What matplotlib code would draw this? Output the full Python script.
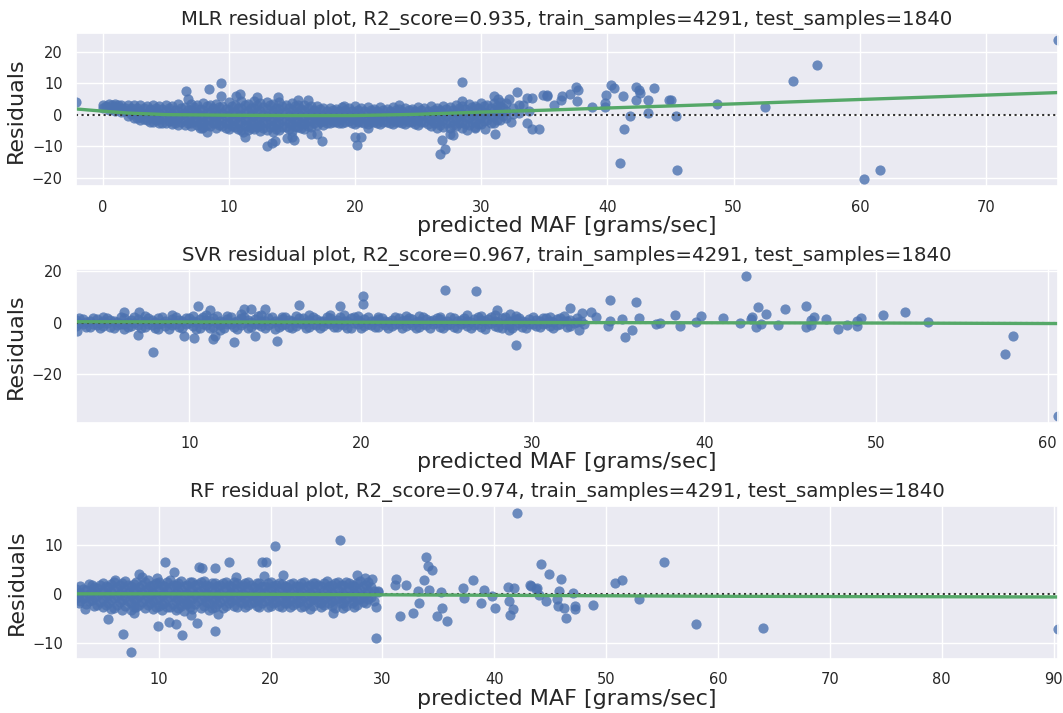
import matplotlib
matplotlib.use("Agg")
import matplotlib.pyplot as plt
import seaborn as sns

sns.set_theme(style="darkgrid")
plt.rcParams["font.family"] = ["DejaVu Sans"]

titles = [
    "MLR residual plot, R2_score=0.935, train_samples=4291, test_samples=1840",
    "SVR residual plot, R2_score=0.967, train_samples=4291, test_samples=1840",
    "RF residual plot, R2_score=0.974, train_samples=4291, test_samples=1840",
]

# dense band of residuals, read column by column: (predicted MAF, [residuals])
mlr_band = [
    (0.0, [3.0, 2.0]), (0.5, [3.3, 1.6]), (1.0, [3.4, 1.2, 2.4]), (1.5, [3.2, 0.8, 2.0]),
    (2.0, [3.1, 1.0, -0.4]), (2.5, [2.9, 0.6, -1.0]), (3.0, [3.2, 1.2, -0.8, -1.6]),
    (3.5, [2.8, 0.5, -1.8]), (4.0, [3.0, 1.0, -1.0, -2.3]), (4.5, [2.6, 0.4, -1.5, -2.6]),
    (5.0, [3.1, 1.2, -0.8, -2.8]), (5.5, [2.8, 0.2, -1.8, -3.0]), (6.0, [3.3, 1.0, -1.0, -3.2]),
    (6.5, [2.5, 0.4, -1.6, -3.4]), (7.0, [3.4, 1.4, -0.6, -2.6, -3.6]), (7.5, [2.9, 0.6, -1.6, -3.4]),
    (8.0, [3.6, 1.5, -0.5, -2.5, -4.0]), (8.5, [3.0, 0.8, -1.4, -3.6]),
    (9.0, [3.5, 1.2, -0.8, -2.8, -4.1]), (9.5, [2.8, 0.6, -1.8, -3.6]),
    (10.0, [3.9, 1.6, -0.6, -2.6, -4.5]), (10.5, [3.2, 0.9, -1.5, -3.8]),
    (11.0, [4.2, 2.0, -0.2, -2.4, -4.8]), (11.5, [3.4, 1.0, -1.4, -3.6, -5.0]),
    (12.0, [4.4, 2.1, -0.3, -2.6, -4.6]), (12.5, [3.6, 1.2, -1.2, -3.4, -5.2]),
    (13.0, [4.0, 1.8, -0.4, -2.6, -4.8]), (13.5, [3.4, 1.0, -1.4, -3.6, -5.6]),
    (14.0, [4.1, 1.7, -0.6, -2.8, -5.0]), (14.5, [3.2, 0.8, -1.6, -3.8]),
    (15.0, [3.6, 1.4, -0.8, -3.0, -5.1]), (15.5, [2.9, 0.6, -1.6, -3.8]),
    (16.0, [3.2, 1.0, -1.0, -3.0, -4.6]), (16.5, [2.6, 0.4, -1.8, -3.8]),
    (17.0, [2.6, 0.6, -1.4, -3.2]), (17.5, [2.0, 0.0, -2.0, -3.4]), (18.0, [2.2, 0.4, -1.4, -2.8]),
    (18.5, [1.8, -0.2, -2.2]), (19.0, [2.4, 0.6, -1.2, -2.6]), (19.5, [2.0, 0.0, -2.0]),
    (20.0, [2.6, 0.6, -1.4, -3.0]), (20.5, [2.0, 0.0, -2.2]), (21.0, [2.5, 0.5, -1.5, -3.0]),
    (21.5, [1.9, -0.2, -2.4]), (22.0, [2.3, 0.4, -1.6, -3.0]), (22.5, [1.8, -0.2, -2.2]),
    (23.0, [2.4, 0.4, -1.6, -2.9]), (23.5, [1.8, -0.4, -2.4]), (24.0, [2.2, 0.2, -1.8, -3.1]),
    (24.5, [1.8, -0.2, -2.4]), (25.0, [2.5, 0.4, -1.6, -3.4]), (25.5, [2.0, -0.2, -2.4]),
    (26.0, [2.6, 0.6, -1.6, -3.6]), (26.5, [2.2, 0.0, -2.4, -4.2]), (27.0, [2.8, 0.6, -1.6, -3.8]),
    (27.5, [2.4, 0.2, -2.2, -4.4]), (28.0, [3.0, 0.8, -1.4, -3.6]), (28.5, [2.6, 0.2, -2.2, -4.2]),
    (29.0, [3.4, 1.2, -1.0, -3.2]), (29.5, [2.8, 0.4, -2.0, -3.8]), (30.0, [3.6, 1.4, -0.8, -3.0]),
    (30.5, [3.0, 0.6, -1.8]), (31.0, [3.8, 1.6, -0.6, -2.6]), (31.5, [2.8, 0.4, -1.6]),
    (32.0, [3.6, 1.2, -1.0]), (33.0, [3.0, 0.6]),
    (0.25, [2.6]), (0.75, [2.2, 3.0]), (1.25, [1.8, 3.0]), (1.75, [2.2, 1.2]), (2.25, [2.0, 0.2]),
    (2.75, [2.0, -0.2, -1.2]), (3.25, [2.2, 0.2, -1.4]), (3.75, [1.8, -0.6, -2.2]),
    (4.25, [2.0, 0.0, -1.8]), (4.75, [1.8, -0.6, -2.6]), (5.25, [2.2, 0.0, -2.0]),
    (5.75, [1.6, -0.8, -2.6]), (6.25, [2.2, 0.0, -2.2]), (6.75, [1.6, -0.6, -2.8]),
    (7.25, [2.4, 0.2, -2.0]), (7.75, [1.8, -0.6, -2.6, -4.2]), (8.25, [2.6, 0.4, -1.6, -3.2]),
    (8.75, [2.0, -0.4, -2.6]), (9.25, [2.4, 0.2, -1.8, -3.4]), (9.75, [1.8, -0.6, -2.8, -4.4]),
    (10.25, [2.6, 0.4, -1.6, -3.6]), (10.75, [2.0, -0.4, -2.8, -4.6]), (11.25, [3.0, 0.6, -1.6, -3.4]),
    (11.75, [2.2, -0.2, -2.6, -4.4]), (12.25, [3.2, 0.8, -1.6, -3.8]), (12.75, [2.4, 0.0, -2.4, -4.4]),
    (13.25, [3.0, 0.6, -1.8, -3.8]), (13.75, [2.2, -0.2, -2.6, -4.6]), (14.25, [2.8, 0.6, -1.8, -4.0]),
    (14.75, [2.0, -0.4, -2.6, -4.6]), (15.25, [2.6, 0.2, -2.0, -4.0]), (15.75, [1.8, -0.6, -2.8, -4.4]),
    (16.25, [2.2, 0.0, -2.0, -3.6]), (16.75, [1.6, -0.6, -2.6]), (17.25, [1.8, -0.4, -2.4]),
    (17.75, [1.2, -0.8, -2.6]), (18.25, [1.4, -0.6, -2.2]), (18.75, [1.0, -1.2, -2.6]),
    (19.25, [1.6, -0.4, -2.2]), (19.75, [1.2, -1.0, -2.6]), (20.25, [1.6, -0.6, -2.2]),
    (20.75, [1.2, -1.0, -2.6]), (21.25, [1.6, -0.6, -2.2]), (21.75, [1.0, -1.0, -2.8]),
    (22.25, [1.4, -0.6, -2.2]), (22.75, [1.0, -1.2, -2.8]), (23.25, [1.6, -0.6, -2.2]),
    (23.75, [1.2, -1.0, -2.8]), (24.25, [1.4, -0.8, -2.4]), (24.75, [1.0, -1.2, -3.0]),
    (25.25, [1.6, -0.6, -2.4]), (25.75, [1.2, -1.0, -3.0]), (26.25, [1.6, -0.8, -2.8]),
    (26.75, [1.4, -1.0, -3.2]), (27.25, [1.8, -0.6, -2.8]), (27.75, [1.6, -1.0, -3.2]),
    (28.25, [2.0, -0.4, -2.8]), (28.75, [1.8, -0.8, -3.0]), (29.25, [2.4, 0.0, -2.2]),
    (29.75, [2.0, -0.6, -3.0]), (30.25, [2.6, 0.4, -2.0]), (30.75, [2.0, -0.4, -2.6]),
    (31.25, [2.8, 0.6, -1.6]), (31.75, [2.0, -0.4]), (32.5, [2.2, 0.2]),
]
mlr_x = [-2.1, 6.6, 6.8, 8.4, 9.4, 9.4, 8.3, 7.9, 10.6, 10.9, 11.3, 11.1, 12.2, 13.0, 13.4,
         13.9, 13.7, 14.6, 15.2, 15.0, 15.5, 16.3, 17.0, 17.4, 16.5, 19.1, 20.0, 20.2, 20.5,
         21.0, 23.5, 26.7, 27.1, 26.9, 27.5, 27.8, 28.5, 28.5, 28.9, 29.5, 30.3, 31.0, 31.3,
         31.1, 31.5, 32.2, 32.8, 32.4, 33.3, 33.6, 34.0, 33.8, 33.6, 34.0, 34.6, 34.9, 35.2,
         35.2, 35.8, 36.3, 36.4, 37.0, 37.5, 37.7, 37.6, 38.8, 39.8, 39.8, 39.9, 40.3, 40.5,
         41.2, 41.0, 41.3, 41.8, 42.3, 42.5, 42.6, 42.3, 43.2, 43.2, 43.7, 44.9, 45.0, 45.4,
         45.5, 48.7, 52.5, 54.7, 56.6, 60.3, 61.6, 75.7]
mlr_y = [4.0, 7.5, 5.0, 8.0, 10.0, 6.0, -5.5, -4.3, 6.0, 6.5, -7.0, -5.5, 5.5, -10.0, -9.0,
         5.5, -8.5, -7.5, -8.0, -7.0, 4.5, 4.5, -6.0, -8.5, -6.0, 2.8, -7.0, -9.5, -7.0,
         -4.2, 3.0, -12.5, -11.0, -8.0, -6.0, -6.5, 10.5, 4.2, -5.0, -4.2, -4.5, 6.0, 5.0,
         -6.0, 4.0, 5.0, 7.3, -2.2, 3.2, 5.3, 5.3, 1.0, -2.6, -4.5, -4.7, 6.3, 5.8,
         6.1, 2.9, 4.7, 5.8, 6.5, 8.7, 7.7, 4.4, 2.3, 2.4, 3.7, 6.1, 9.5, 8.3,
         5.8, -15.3, -4.5, -0.3, 8.7, 7.9, 6.8, 4.7, 4.5, 0.5, 8.3, 4.7, 4.5, -0.3,
         -17.5, 3.5, 2.5, 10.8, 15.6, -20.6, -17.5, 23.7]
mlr_trend_x = [-2.1, 0, 2, 5, 10, 15, 20, 25, 30, 35, 40, 50, 60, 75.7]
mlr_trend_y = [1.8, 1.1, 0.5, 0.0, -0.2, -0.3, -0.3, 0.1, 0.8, 1.4, 2.1, 3.4, 4.8, 7.0]

svr_band = [
    (3.4, [0.8, -1.4]), (3.8, [1.2, -0.6]), (4.2, [0.4, -1.6]), (4.6, [1.4, -0.8]),
    (5.0, [0.6, -1.2, 2.2]), (5.4, [1.0, -1.8]), (5.8, [0.2, -1.0]), (6.2, [1.6, -0.4, -2.4]),
    (6.6, [0.8, -1.4]), (7.0, [1.2, -0.8]), (7.4, [0.4, -1.6, 2.4]), (7.8, [1.0, -1.0]),
    (8.2, [1.8, -0.6, -2.6]), (8.6, [0.6, -1.4]), (9.0, [1.4, -0.8, 2.8]), (9.4, [0.8, -1.8]),
    (9.8, [1.6, -0.4]), (10.2, [0.4, -1.2, 2.6]), (10.6, [1.2, -2.0]), (11.0, [0.8, -0.8, 3.0]),
    (11.4, [1.8, -1.6]), (11.8, [0.6, -1.0, -2.8]), (12.2, [1.4, -0.6, 2.4]), (12.6, [0.2, -1.8]),
    (13.0, [1.6, -1.0, 3.2]), (13.4, [0.8, -2.2]), (13.8, [1.2, -0.6]), (14.2, [0.4, -1.4, 2.8]),
    (14.6, [1.8, -1.0]), (15.0, [0.6, -2.4]), (15.4, [1.4, -0.8, 2.2]), (15.8, [1.0, -1.6]),
    (16.2, [0.2, -1.2, 2.6]), (16.6, [1.6, -0.6]), (17.0, [0.8, -1.8, 3.0]), (17.4, [1.2, -0.8]),
    (17.8, [0.6, -1.4]), (18.2, [1.8, -0.4, 2.8]), (18.6, [1.0, -1.6]), (19.0, [0.4, -1.0, 3.0]),
    (19.4, [1.6, -2.0]), (19.8, [0.8, -0.6, 2.4]), (20.2, [1.4, -1.4]), (20.6, [0.6, -0.8]),
    (21.0, [1.2, -1.8, 2.2]), (21.4, [0.4, -1.0]), (21.8, [1.0, -1.4]), (22.2, [1.6, -0.6]),
    (22.6, [0.8, -1.2, 2.4]), (23.0, [1.2, -0.8]), (23.4, [0.4, -1.6, 2.6]), (23.8, [1.4, -1.0]),
    (24.2, [0.8, -0.4]), (24.6, [1.2, -1.6, 2.2]), (25.0, [0.6, -1.0]), (25.4, [1.6, -1.8]),
    (25.8, [1.0, -0.6]), (26.2, [0.4, -1.4, 2.8]), (26.6, [1.4, -1.0]), (27.0, [0.8, -1.8, 2.4]),
    (27.4, [1.2, -0.6]), (27.8, [0.6, -1.2, 3.0]), (28.2, [1.8, -2.2]), (28.6, [0.4, -1.0]),
    (29.0, [1.2, -0.8, 2.4]), (29.4, [0.6, -1.6]), (29.8, [1.4, -0.4]), (30.2, [0.8, -1.2]),
    (30.6, [1.6, -0.6]), (31.0, [0.4, -1.4, 2.0]), (31.4, [1.2, -0.8]), (31.8, [0.6, 2.4]),
    (32.2, [1.0, -1.2]), (32.6, [0.2, 1.6]), (33.0, [-0.6]),
    (3.6, [-0.2, 1.6]), (4.0, [0.2, -1.8]), (4.4, [-0.4, 1.8]), (4.8, [0.0, -2.0]),
    (5.2, [-0.2, 1.6]), (5.6, [0.4, -2.2]), (6.0, [-0.6, 2.0]), (6.4, [0.2, -1.8]),
    (6.8, [-0.2, 2.2]), (7.2, [0.4, -2.0]), (7.6, [-0.4, 1.8]), (8.0, [0.2, -2.2]),
    (8.4, [-0.2, 2.0]), (8.8, [0.0, -2.4]), (9.2, [-0.4, 2.2]), (9.6, [0.4, -2.0]),
    (10.0, [-0.2, 1.8]), (10.4, [0.2, -2.4]), (10.8, [-0.6, 2.2]), (11.2, [0.4, -2.0]),
    (11.6, [-0.2, 2.4]), (12.0, [0.2, -2.2]), (12.4, [-0.4, 2.0]), (12.8, [0.6, -2.4]),
    (13.2, [-0.2, 2.2]), (13.6, [0.2, -1.8]), (14.0, [-0.4, 2.4]), (14.4, [0.4, -2.2]),
    (14.8, [-0.2, 2.0]), (15.2, [0.2, -1.6]), (15.6, [-0.4, 2.2]), (16.0, [0.4, -2.2]),
    (16.4, [-0.2, 1.8]), (16.8, [0.2, -2.0]), (17.2, [-0.4, 2.2]), (17.6, [0.4, -2.2]),
    (18.0, [-0.2, 2.0]), (18.4, [0.2, -1.8]), (18.8, [-0.4, 2.2]), (19.2, [0.4, -2.0]),
    (19.6, [-0.2, 2.0]), (20.0, [0.2, -2.2]), (20.4, [-0.4, 2.2]), (20.8, [0.4, -1.8]),
    (21.2, [-0.2, 1.8]), (21.6, [0.2, -2.0]), (22.0, [-0.4, 2.0]), (22.4, [0.4, -2.2]),
    (22.8, [-0.2, 1.8]), (23.2, [0.2, -2.0]), (23.6, [-0.4, 2.0]), (24.0, [0.4, -2.2]),
    (24.4, [-0.2, 1.8]), (24.8, [0.2, -2.0]), (25.2, [-0.4, 2.2]), (25.6, [0.4, -2.2]),
    (26.0, [-0.2, 1.8]), (26.4, [0.2, -2.0]), (26.8, [-0.4, 2.0]), (27.2, [0.4, -2.4]),
    (27.6, [-0.2, 2.2]), (28.0, [0.2, -1.8]), (28.4, [-0.4, 2.0]), (28.8, [0.4, -2.0]),
    (29.2, [-0.2, 1.8]), (29.6, [0.2, -2.2]), (30.0, [-0.4, 2.0]), (30.4, [0.4, -1.8]),
    (30.8, [-0.2, 1.8]), (31.2, [0.2, -2.0]), (31.6, [-0.4, 1.6]), (32.0, [0.4, -1.8]),
    (32.4, [-0.2]), (32.8, [0.6]),
]
svr_x = [3.43, 6.2, 7.0, 7.05, 7.9, 9.7, 10.3, 10.5, 11.2, 11.4, 11.5, 12.6, 13.2, 13.6,
         13.8, 14.4, 15.1, 16.4, 18.8, 20.1, 20.1, 24.9, 26.7, 27.9, 28.6, 29.0, 28.7,
         32.2, 32.9, 33.4, 33.7, 32.7, 34.5, 34.5, 34.4, 35.2, 35.4, 35.8, 36.0, 36.2,
         37.2, 37.4, 38.3, 38.6, 39.5, 39.8, 41.1, 42.1, 42.4, 42.7, 42.8, 43.1, 43.0,
         43.3, 43.6, 44.3, 44.7, 45.9, 45.9, 46.2, 46.2, 46.4, 47.1, 47.8, 48.3, 48.9,
         48.9, 49.1, 50.4, 51.7, 53.0, 57.5, 58.0, 60.6]
svr_y = [-3.2, 4.1, -4.8, 4.2, -11.4, -5.1, -6.0, 6.6, 4.7, -6.4, -5.1, -7.6, 5.3, 5.3,
         -5.3, 5.1, -7.2, 7.0, 6.6, 10.2, 7.4, 12.5, 12.1, 4.7, -2.8, -8.9, 3.2,
         5.8, 3.6, 4.2, 2.2, -2.8, 8.7, 0.6, -1.5, 1.3, -5.5, -2.8, 8.1, 1.9,
         -0.6, 0.0, 2.8, -1.5, 0.3, 2.6, 1.7, 0.0, 18.0, 1.3, 2.3, 6.0, -1.9,
         -0.4, 3.5, -0.9, 5.4, 6.4, -1.9, 0.9, -1.0, 2.3, 1.3, -2.6, -1.0, -1.3,
         0.6, 1.7, 2.8, 4.2, 0.3, -12.4, -5.3, -36.3]
svr_trend_x = [3.43, 10, 20, 30, 40, 50, 60.6]
svr_trend_y = [0.3, 0.2, 0.1, 0.0, -0.1, -0.2, -0.4]

rf_band = [
    (2.6, [1.0, -0.8]), (3.0, [1.6, 0.2, -1.4]), (3.5, [0.8, -0.6, -2.0]), (4.0, [2.0, 0.4, -1.2]),
    (4.5, [1.2, -0.4, -2.2]), (5.0, [2.4, 0.6, -1.0, -2.6]), (5.5, [1.4, -0.2, -1.8]),
    (6.0, [2.6, 0.8, -0.8, -2.8]), (6.5, [1.8, 0.0, -1.6]), (7.0, [2.8, 1.0, -0.6, -2.4]),
    (7.5, [1.6, -0.2, -1.8, -3.2]), (8.0, [2.6, 0.8, -1.0, -2.6]), (8.5, [1.8, 0.2, -1.6]),
    (9.0, [3.0, 1.0, -0.6, -2.2]), (9.5, [2.0, 0.2, -1.4, -3.0]), (10.0, [2.6, 0.8, -0.8, -2.4]),
    (10.5, [1.6, 0.0, -1.8]), (11.0, [3.0, 1.2, -0.6, -2.6]), (11.5, [2.0, 0.2, -1.4, -3.2]),
    (12.0, [2.8, 1.0, -0.8, -2.4]), (12.5, [1.8, 0.0, -1.8]), (13.0, [2.6, 0.8, -1.0, -3.0]),
    (13.5, [2.2, 0.4, -1.4]), (14.0, [2.8, 1.0, -0.6, -2.4]), (14.5, [1.6, -0.2, -1.8, -3.2]),
    (15.0, [2.4, 0.6, -1.0, -2.6]), (15.5, [1.8, 0.0, -1.6]), (16.0, [2.6, 1.0, -0.6, -2.4]),
    (16.5, [1.6, 0.2, -1.4]), (17.0, [2.4, 0.8, -0.8, -2.6]), (17.5, [1.8, 0.0, -1.8]),
    (18.0, [2.6, 1.0, -0.6, -2.2]), (18.5, [1.4, -0.2, -1.6]), (19.0, [2.4, 0.6, -1.0, -2.6]),
    (19.5, [1.6, 0.2, -1.4]), (20.0, [2.6, 1.0, -0.6, -2.4]), (20.5, [1.8, 0.0, -1.6]),
    (21.0, [2.2, 0.6, -1.0, -2.6]), (21.5, [1.4, -0.2, -1.8]), (22.0, [2.4, 0.8, -0.8, -2.2]),
    (22.5, [1.6, 0.0, -1.6]), (23.0, [2.6, 1.0, -0.6, -2.4]), (23.5, [1.8, 0.2, -1.4, -3.0]),
    (24.0, [2.4, 0.6, -1.0]), (24.5, [1.6, -0.2, -1.8, -2.6]), (25.0, [2.8, 1.0, -0.6]),
    (25.5, [2.0, 0.2, -1.4, -2.4]), (26.0, [2.6, 0.8, -1.0]), (26.5, [1.8, 0.0, -1.8, -2.8]),
    (27.0, [2.4, 1.0, -0.6]), (27.5, [1.6, 0.2, -1.4, -2.6]), (28.0, [2.8, 0.8, -1.0]),
    (28.5, [2.0, 0.0, -1.8]), (29.0, [1.4, -0.6]), (29.6, [0.4]),
    (2.85, [0.2, -1.8]), (3.25, [1.0, -0.8]), (3.75, [2.2, 0.0, -1.4]), (4.25, [1.4, -0.6, -2.4]),
    (4.75, [2.0, 0.2, -1.6]), (5.25, [1.6, -0.4, -2.2]), (5.75, [2.2, 0.4, -1.2, -3.0]),
    (6.25, [1.4, -0.4, -2.2]), (6.75, [2.4, 0.6, -1.2, -3.2]), (7.25, [1.8, 0.2, -1.4]),
    (7.75, [2.2, 0.6, -1.0, -2.6]), (8.25, [1.4, -0.4, -2.2]), (8.75, [2.6, 0.8, -1.0, -2.8]),
    (9.25, [1.6, -0.2, -1.8]), (9.75, [2.4, 0.6, -1.0, -2.6]), (10.25, [1.8, -0.2, -2.0, -3.2]),
    (10.75, [2.6, 0.8, -0.8, -2.6]), (11.25, [1.8, -0.2, -2.0]), (11.75, [2.4, 0.6, -1.0, -2.8]),
    (12.25, [1.6, -0.2, -1.8, -3.4]), (12.75, [2.6, 0.8, -1.0, -2.6]), (13.25, [1.8, -0.2, -2.0]),
    (13.75, [2.6, 0.6, -1.0, -2.8]), (14.25, [1.8, 0.0, -1.6]), (14.75, [2.4, 0.6, -1.0, -2.8]),
    (15.25, [1.6, -0.2, -2.0]), (15.75, [2.4, 0.6, -1.0, -2.8]), (16.25, [1.8, -0.2, -1.8]),
    (16.75, [2.6, 0.6, -1.0, -2.4]), (17.25, [1.6, -0.2, -1.6]), (17.75, [2.4, 0.6, -1.0, -2.6]),
    (18.25, [1.8, -0.2, -1.8]), (18.75, [2.4, 0.6, -1.0, -2.4]), (19.25, [1.6, -0.2, -1.8]),
    (19.75, [2.4, 0.6, -1.0, -2.6]), (20.25, [1.6, -0.2, -1.8]), (20.75, [2.4, 0.6, -1.0, -2.4]),
    (21.25, [1.6, -0.2, -1.8]), (21.75, [2.2, 0.4, -1.2, -2.6]), (22.25, [1.6, -0.2, -1.8]),
    (22.75, [2.4, 0.6, -1.0, -2.6]), (23.25, [1.6, -0.2, -1.8]), (23.75, [2.4, 0.6, -1.0, -2.4]),
    (24.25, [1.8, -0.2, -1.6]), (24.75, [2.4, 0.6, -1.0, -2.2]), (25.25, [1.6, -0.2, -1.8]),
    (25.75, [2.4, 0.6, -1.0, -2.8]), (26.25, [1.8, -0.2, -1.8]), (26.75, [2.6, 0.6, -1.0, -2.4]),
    (27.25, [1.8, -0.2, -1.8]), (27.75, [2.4, 0.6, -1.0, -2.2]), (28.25, [1.6, -0.2, -1.6]),
    (28.75, [2.6, 0.6, -1.0]), (29.25, [0.6, -1.4]),
]
rf_x = [3.4, 5.5, 6.1, 6.8, 7.5, 7.8, 8.2, 8.5, 9.9, 9.8, 10.6, 10.9, 11.4, 11.5, 12.1,
        12.5, 12.9, 13.4, 13.6, 13.9, 15.0, 15.0, 15.3, 16.3, 16.9, 19.2, 19.6, 19.4,
        20.4, 21.1, 26.2, 25.6, 27.7, 28.4, 29.1, 29.4, 29.6, 29.4, 31.1, 31.2, 31.6,
        32.1, 32.7, 33.2, 33.3, 33.7, 33.9, 34.1, 34.4, 34.2, 34.9, 35.2, 35.3, 35.8,
        37.2, 37.3, 38.1, 38.8, 39.1, 39.8, 40.1, 41.2, 41.3, 41.4, 41.7, 42.0, 41.8,
        43.2, 43.8, 44.2, 44.9, 43.3, 43.7, 44.0, 44.6, 45.6, 45.8, 46.0, 45.7, 46.2,
        46.4, 47.0, 47.2, 47.2, 48.8, 50.8, 51.4, 52.9, 55.2, 58.0, 64.0, 90.4]
rf_y = [-3.0, -5.0, 2.9, -8.2, -11.8, -3.8, 4.1, 3.6, -6.4, 3.4, 6.6, -5.7, 4.6, -6.0, -8.3,
        -2.0, -4.2, -5.9, 5.6, 5.4, -7.5, 5.4, -4.0, 6.6, 3.6, 6.6, 6.5, 3.7,
        9.8, 3.9, 11.1, -3.8, 4.0, 3.4, 3.1, -9.0, 0.7, -2.5, 2.0, 3.1, -4.5,
        1.8, -3.8, 0.7, -1.7, 2.9, 7.6, 5.7, 4.9, 0.9, -4.4, 0.5, -2.7, -5.5,
        1.2, -0.8, 2.9, -1.8, 0.9, -0.3, -2.8, 1.5, -1.3, -4.2, -3.0, 16.7, 1.3,
        1.9, 1.2, 6.2, 4.1, 1.7, 1.0, -0.2, -1.4, -0.9, 0.6, 3.2, -2.4, -2.8,
        -4.8, 0.3, -2.4, -3.1, -2.2, 2.3, 3.0, -1.0, 6.7, -6.1, -6.8, -7.0]
rf_trend_x = [2.6, 10, 20, 30, 40, 50, 60, 70, 90.4]
rf_trend_y = [0.1, 0.1, 0.0, -0.1, -0.2, -0.3, -0.4, -0.45, -0.55]

panels = [
    (mlr_band, mlr_x, mlr_y, mlr_trend_x, mlr_trend_y),
    (svr_band, svr_x, svr_y, svr_trend_x, svr_trend_y),
    (rf_band, rf_x, rf_y, rf_trend_x, rf_trend_y),
]

fig, axes = plt.subplots(3, 1, figsize=(10.63, 7.13), dpi=100)
fig.subplots_adjust(left=0.0715, right=0.9953, top=0.9537, bottom=0.0757, hspace=0.54)

for ax, title, (band, ox, oy, tx, ty) in zip(axes, titles, panels):
    xs = [x for x, yl in band for _ in yl] + ox
    ys = [y for _, yl in band for y in yl] + oy
    ax.scatter(xs, ys, s=54, color="#4C72B0", alpha=0.8, linewidths=0)
    ax.axhline(0, ls=":", c=".2", lw=1.5)
    ax.plot(tx, ty, color="#55A868", lw=2.4)
    ax.set_xlim(min(xs), max(xs))
    ax.set_title(title, fontsize=14.2, color=".15")
    ax.set_xlabel("predicted MAF [grams/sec]", fontsize=16, color=".15", labelpad=1)
    ax.set_ylabel("Residuals", fontsize=16, color=".15")
    ax.tick_params(labelsize=10.5)

fig.savefig("out.png", dpi=100)
